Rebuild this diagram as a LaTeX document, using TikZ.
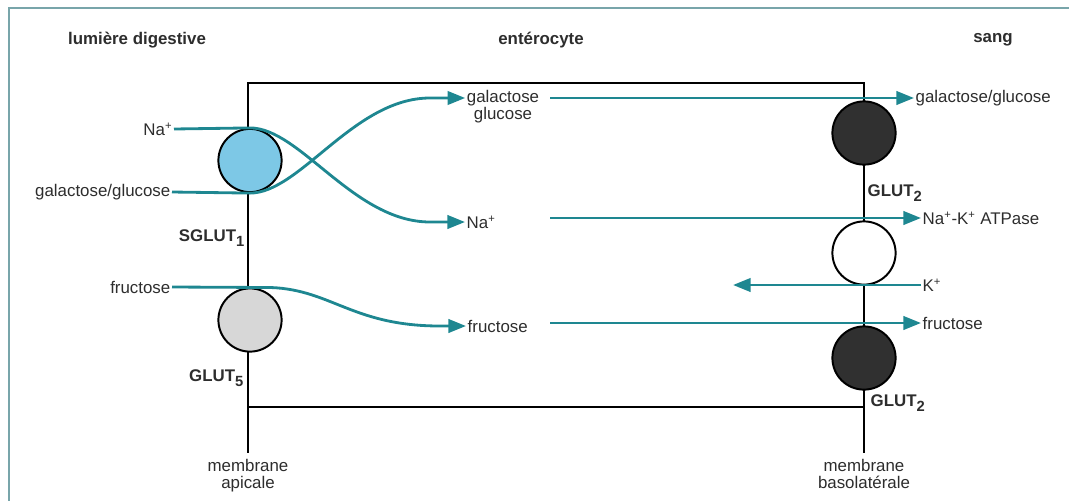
\documentclass[tikz,border=0pt]{standalone}
\usepackage{fontspec}
\setmainfont{Liberation Sans}
\usetikzlibrary{arrows.meta,calc,positioning}
\definecolor{fluxcol}{RGB}{30,135,145}
\definecolor{textcol}{RGB}{45,45,45}
\definecolor{bleucol}{RGB}{125,200,230}
\definecolor{grisclair}{RGB}{215,215,215}
\definecolor{foncecol}{RGB}{48,48,48}
\definecolor{cadrecol}{RGB}{120,165,170}
\newcommand{\lowidx}[1]{\raisebox{-0.5ex}{\fontsize{10.5}{12}\selectfont #1}}
\begin{document}
\begin{tikzpicture}[
			x=0.025cm, y=-0.025cm,
			txt/.style={font=\fontsize{12}{12.5}\selectfont, text=textcol, inner sep=1pt, align=center},
			titre/.style={font=\fontsize{12}{14}\selectfont\bfseries, text=textcol},
			nom/.style={font=\fontsize{12}{14}\selectfont\bfseries, text=textcol, inner sep=1pt},
			membr/.style={line width=1.1pt},
			transp/.style={circle, draw=black, line width=1.4pt, minimum size=1.58cm, inner sep=0pt},
			flux/.style={draw=fluxcol, line width=2pt, -{Triangle[length=12.5pt,width=9.5pt]}}
		]
		\useasboundingbox (0,0) rectangle (1069,501);
		% cadre
		\draw[cadrecol, line width=0.8pt] (1069,8) -- (9,8) -- (9,501);
		% titres
		\node[titre] (lumiere) at (137,40) {lumière digestive};
		\node[titre] (entero) at (541,40) {entérocyte};
		\node[titre] (sang) at (993,40) {sang};
		% cellule et membranes
		\draw[membr] (248,83) rectangle (864,407);
		\coordinate (apBas) at (248,453);
		\coordinate (baBas) at (864,453);
		\draw[membr] (248,83) -- (apBas);
		\draw[membr] (864,83) -- (baBas);
		\node[txt, below=3pt of apBas] (apical) {membrane\\apicale};
		\node[txt, below=3pt of baBas] (basolat) {membrane\\basolatérale};
		% transporteurs
		\node[transp, fill=bleucol] (sglut) at (250,160.5) {};
		\node[transp, fill=grisclair] (glutcinq) at (250,320) {};
		\node[transp, fill=foncecol] (glutdeuxA) at (864,133) {};
		\node[transp, fill=white] (atpase) at (864,253) {};
		\node[transp, fill=foncecol] (glutdeuxB) at (864,358) {};
		\node[nom, anchor=east] (sglutnom) at (246,238) {SGLUT\lowidx{1}};
		\node[nom, anchor=east] (glutcinqnom) at (245,378) {GLUT\lowidx{5}};
		\node[nom, anchor=west] (glutdeuxAnom) at (866,193) {GLUT\lowidx{2}};
		\node[nom, anchor=west] (glutdeuxBnom) at (869,403) {GLUT\lowidx{2}};
		% textes
		\node[txt, anchor=east] (naL) at (174,129) {Na\textsuperscript{+}};
		\node[txt, anchor=east] (galL) at (172,192) {galactose/glucose};
		\node[txt, anchor=east] (fruL) at (172,287) {fructose};
		\node[txt] (galM) at (503,106.5) {galactose\\glucose};
		\node[txt, anchor=west] (naM) at (465,222) {Na\textsuperscript{+}};
		\node[txt, anchor=west] (fruM) at (466,326) {fructose};
		\node[txt, anchor=west] (galR) at (914,98) {galactose/glucose};
		\node[txt, anchor=west] (atpR) at (921,218) {Na\textsuperscript{+}-K\textsuperscript{+} ATPase};
		\node[txt, anchor=west] (kR) at (921,285) {K\textsuperscript{+}};
		\node[txt, anchor=west] (fruR) at (921,323) {fructose};
		% flux apicaux
		\draw[flux] (naL.east) -- (sglut.north) .. controls +(50,0) and +(-76,0) .. (430,222) -- (naM.west);
		\draw[flux] (galL.east) -- (sglut.south) .. controls +(50,0) and +(-76,0) .. (430,98) -- ($(galM.west)+(0,-8.5)$);
		\draw[flux] (fruL.east) -- (glutcinq.north) -- +(15,0) .. controls +(65,0) and +(-90,0) .. (440,326) -- (fruM.west);
		% flux basolateraux
		\coordinate (dGal) at (550,98);
		\coordinate (dNa) at (550,218);
		\coordinate (fK) at (733,285);
		\coordinate (dFru) at (550,323);
		\draw[flux] (dGal) -- (galR.west);
		\draw[flux] (dNa) -- (atpR.west);
		\draw[flux] (kR.west) -- (fK);
		\draw[flux] (dFru) -- (fruR.west);
	\end{tikzpicture}
\end{document}
